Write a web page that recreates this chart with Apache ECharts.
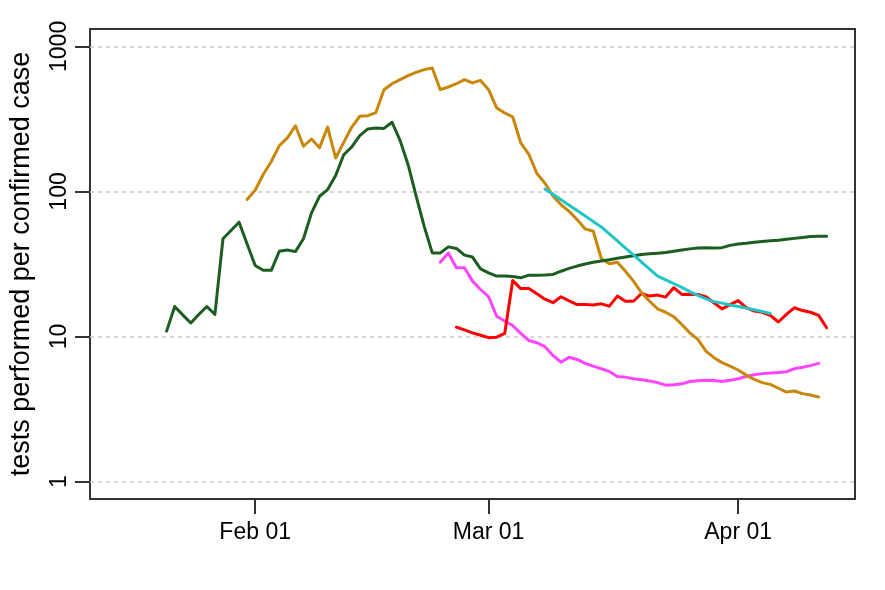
<!DOCTYPE html>
<html>
<head>
<meta charset="utf-8">
<script src="https://cdn.jsdelivr.net/npm/echarts@6/dist/echarts.min.js"></script>
<style>
html,body{margin:0;padding:0;background:#fff;}
#chart{width:885px;height:590px;}
</style>
</head>
<body>
<div id="chart"></div>
<script>
// ---- data (daily values, start dates) ----
const dayOrigin = '2020-01-01';
const xLimits = ['2020-01-15', '2020-04-12'];
const yLimits = [1, 1000];
const tickDates = ['2020-02-01', '2020-03-01', '2020-04-01'];
const tickLabels = ['Feb 01', 'Mar 01', 'Apr 01'];
const yTickValues = [1, 10, 100, 1000];
const yTitle = 'tests performed per confirmed case';

const magentaStart = '2020-02-24';
const magentaValues = [32.5, 37.7, 29.8, 29.8, 24.1, 21.1, 18.8, 13.8, 12.8, 11.9, 10.5, 9.39, 9.06, 8.51, 7.4, 6.66,
  7.2, 6.95, 6.53, 6.25, 6.0, 5.75, 5.3, 5.25, 5.12, 5.03, 4.93, 4.81, 4.62, 4.65, 4.72, 4.9, 4.95, 5.0, 4.97, 4.9,
  5.0, 5.12, 5.3, 5.45, 5.55, 5.6, 5.65, 5.72, 6.0, 6.15, 6.3, 6.53];

const redStart = '2020-02-26';
const redValues = [11.6, 11.1, 10.6, 10.2, 9.82, 9.9, 10.5, 24.3, 21.4, 21.4, 19.7, 18.1, 17.1, 18.8, 17.6, 16.6, 16.6,
  16.5, 16.8, 16.2, 19.0, 17.5, 17.5, 19.8, 19.0, 19.3, 18.7, 21.7, 19.5, 19.6, 19.5, 18.8, 17.1, 15.5, 16.6, 17.7,
  15.8, 15.0, 14.7, 14.0, 12.6, 14.2, 15.8, 15.1, 14.7, 14.0, 11.5];

const goldStart = '2020-01-31';
const goldValues = [87.9, 102, 131, 161, 207, 234, 284, 205, 230, 200, 278, 170, 218, 278, 330, 333, 350, 503, 553,
  590, 628, 662, 692, 710, 503, 525, 553, 590, 560, 583, 503, 377, 348, 326, 216, 180, 133, 114, 93, 81, 73, 64, 55.2,
  53.2, 34.5, 31.8, 32.5, 28.2, 24.1, 20.0, 17.5, 15.5, 14.7, 13.7, 12.1, 10.6, 9.55, 7.93, 7.15, 6.61, 6.25, 5.88,
  5.42, 5.06, 4.81, 4.68, 4.40, 4.14, 4.21, 4.04, 3.95, 3.83];

const greenStart = '2020-01-21';
const greenValues = [10.9, 16.1, 14.1, 12.4, 14.2, 16.1, 14.2, 47.2, 53.8, 61.4, 43.5, 30.9, 28.6, 28.6, 38.7, 39.5,
  38.5, 47.2, 71.2, 92.7, 103, 129, 179, 203, 243, 270, 274, 272, 300, 225, 153, 92.7, 57.5, 37.7, 37.7, 41.5, 40.5,
  36.4, 35.3, 29.3, 27.5, 26.1, 26.1, 25.9, 25.4, 26.5, 26.5, 26.6, 26.8, 28.2, 29.5, 30.6, 31.6, 32.5, 33.2, 33.8,
  34.6, 35.3, 36.0, 36.8, 37.2, 37.5, 37.9, 38.7, 39.5, 40.2, 40.8, 41.0, 40.8, 41.0, 42.5, 43.5, 44.0, 44.7, 45.2,
  45.7, 46.1, 46.8, 47.5, 48.2, 48.9, 49.2, 49.2];

const cyanStart = '2020-03-08';
const cyanValues = [104, 95.5, 87.7, 80.5, 73.8, 67.7, 62.1, 57.0, 51.0, 45.6, 40.7, 36.5, 32.6, 29.2, 26.1, 24.6,
  23.2, 21.8, 20.4, 19.2, 18.2, 17.4, 17.0, 16.5, 16.1, 15.7, 15.3, 14.9, 14.4];

// ---- build ----
const DAY = 86400000;
function dayNum(s) { return (Date.parse(s + 'T00:00:00Z') - Date.parse(dayOrigin + 'T00:00:00Z')) / DAY; }
function toPairs(start, vals) { const d0 = dayNum(start); return vals.map((v, i) => [d0 + i, v]); }

const x0 = dayNum(xLimits[0]), x1 = dayNum(xLimits[1]);
const xPad = 0.04 * (x1 - x0);
const ly0 = Math.log10(yLimits[0]), ly1 = Math.log10(yLimits[1]);
const yPad = 0.04 * (ly1 - ly0);
const tickDays = tickDates.map(dayNum);

const FONT = "'Liberation Sans', Arial, Helvetica, sans-serif";
const axisCol = '#333333';

function lineSeries(name, color, start, vals) {
  return {
    name: name, type: 'line', data: toPairs(start, vals), showSymbol: false, symbol: 'none',
    lineStyle: { color: color, width: 3, cap: 'round', join: 'round' },
    itemStyle: { color: color }, animation: false, silent: true
  };
}

const chart = echarts.init(document.getElementById('chart'), null, { renderer: 'canvas' });
chart.setOption({
  backgroundColor: '#ffffff',
  animation: false,
  grid: { left: 90, right: 30, top: 29, bottom: 91, show: true, borderColor: axisCol, borderWidth: 2, backgroundColor: 'transparent' },
  xAxis: {
    type: 'value', min: x0 - xPad, max: x1 + xPad,
    axisLine: { show: false },
    axisTick: { show: true, length: 15, customValues: tickDays, lineStyle: { color: axisCol, width: 2 } },
    axisLabel: { customValues: tickDays, margin: 22, fontSize: 23, fontFamily: FONT, color: '#000',
      formatter: v => { const i = tickDays.indexOf(Math.round(v)); return i >= 0 ? tickLabels[i] : ''; } },
    splitLine: { show: false }
  },
  yAxis: {
    type: 'log', logBase: 10, min: Math.pow(10, ly0 - yPad), max: Math.pow(10, ly1 + yPad),
    name: yTitle, nameLocation: 'middle', nameRotate: 90, nameGap: 55,
    nameTextStyle: { fontSize: 27, fontFamily: FONT, color: '#000' },
    axisLine: { show: false },
    axisTick: { show: true, length: 15, customValues: yTickValues, lineStyle: { color: axisCol, width: 2 } },
    axisLabel: { customValues: yTickValues, rotate: 90, margin: 19, fontSize: 23, fontFamily: FONT, color: '#000',
      formatter: v => String(Math.round(v)) },
    splitLine: { show: true, lineStyle: { color: '#cccccc', width: 1.5, type: [4, 4] } }
  },
  series: [
    lineSeries('magenta', '#ff44ff', magentaStart, magentaValues),
    lineSeries('red', '#ff0000', redStart, redValues),
    lineSeries('gold', '#c8860a', goldStart, goldValues),
    lineSeries('green', '#1b5e20', greenStart, greenValues),
    lineSeries('cyan', '#22c5c5', cyanStart, cyanValues)
  ]
});
</script>
</body>
</html>
